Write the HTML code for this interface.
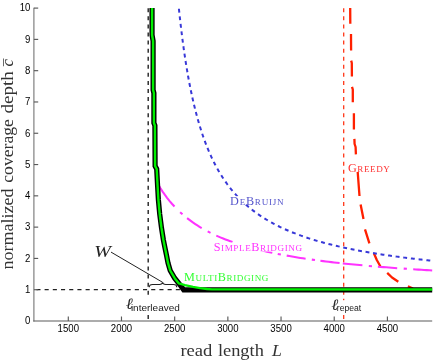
<!DOCTYPE html>
<html><head><meta charset="utf-8"><title>coverage depth vs read length</title>
<style>
html,body{margin:0;padding:0;background:#fff;}
svg{display:block}
.tk text{font-family:"Liberation Sans",sans-serif;font-size:10px;fill:#000}
.ser{font-family:"Liberation Serif",serif;}
.sc{font-family:"Liberation Serif",serif;}
.sc .B{font-size:12.2px}
.sc .S{font-size:9.1px}
.sub{font-family:"Liberation Sans",sans-serif;font-size:9.2px;fill:#1a1a1a}
</style></head><body>
<svg width="438" height="360" viewBox="0 0 438 360">
<rect width="438" height="360" fill="#fff"/>
<!-- reference dashed lines -->
<path d="M33.9,289.6 H184" stroke="#222" stroke-width="1.15" stroke-dasharray="4.1 4.1" stroke-dashoffset="5.7" fill="none"/>
<path d="M148.2,8.3 V320.9" stroke="#222" stroke-width="1.4" stroke-dasharray="4 4.07" fill="none"/>
<path d="M343.7,8.3 V320.9" stroke="#ff3010" stroke-width="1.25" stroke-dasharray="4 4.07" fill="none"/>
<!-- curves -->
<path d="M350.20,8.00 L350.30,23.80 M351.00,33.90 L351.10,50.60 M351.20,60.60 L351.80,63.00 L351.90,76.40 M352.00,86.80 L352.80,89.50 L352.80,102.20 M353.90,113.30 L353.90,129.40 M354.40,138.90 L354.60,144.00 L355.60,147.00 L355.90,154.40 M357.10,164.00 L359.50,196.00 M360.60,204.60 L363.50,219.10 M365.00,229.30 L369.40,243.30 M373.90,253.30 L376.80,260.00 L380.60,266.70 M387.20,272.90 L392.00,277.50 L398.30,281.80 M407.90,286.20 L413.00,288.50" stroke="#ff2000" stroke-width="2.3" fill="none" stroke-linejoin="round"/>
<path d="M158.50,185.09 L160.50,188.36 L162.59,191.57 L164.78,194.71 L167.07,197.79 L169.45,200.79 L171.93,203.71 L174.50,206.55 M187.10,218.12 L189.10,219.66 L191.13,221.16 L193.19,222.63 L195.28,224.04 L197.39,225.42 L199.53,226.76 L201.70,228.06 M216.30,235.57 L218.58,236.59 L220.87,237.57 L223.17,238.51 L225.49,239.43 L227.82,240.33 L230.15,241.19 L232.50,242.03 M253.80,248.49 L256.43,249.17 L259.06,249.83 L261.70,250.46 L264.35,251.08 L266.99,251.68 L269.64,252.27 L272.30,252.83 M286.70,255.63 L289.39,256.11 L292.09,256.57 L294.79,257.02 L297.49,257.46 L300.19,257.89 L302.89,258.31 L305.60,258.71 M320.40,260.77 L323.14,261.12 L325.88,261.46 L328.62,261.79 L331.37,262.12 L334.11,262.44 L336.85,262.75 L339.60,263.06 M342.80,263.40 L345.60,263.70 L348.40,263.99 L351.20,264.27 L354.00,264.55 L356.80,264.82 L359.60,265.09 L362.40,265.35 M377.90,266.69 L380.66,266.92 L383.41,267.14 L386.17,267.35 L388.93,267.56 L391.68,267.77 L394.44,267.97 L397.20,268.17 M413.20,269.26 L415.91,269.44 L418.63,269.61 L421.34,269.78 L424.06,269.94 L426.77,270.11 L429.49,270.27 L432.20,270.42 M180.12,212.14 L182.50,214.28 M207.68,231.37 L210.53,232.83 M238.97,244.20 L242.03,245.15 M277.73,253.94 L280.87,254.55 M311.82,259.61 L314.99,260.05 M368.81,265.92 L371.99,266.20 M403.70,268.63 L406.90,268.85" stroke="#ff33ff" stroke-width="2.05" fill="none"/>
<path d="M178.91,8.73 L179.04,10.03 L179.18,11.32 L179.31,12.61 M179.71,16.33 L179.86,17.62 L180.00,18.91 L180.14,20.20 M180.56,23.87 L180.71,25.16 L180.86,26.46 L181.02,27.75 M181.46,31.37 L181.61,32.66 L181.78,33.95 L181.94,35.24 M182.40,38.83 L182.56,40.12 L182.73,41.41 L182.91,42.70 M183.39,46.26 L183.57,47.55 L183.75,48.83 L183.93,50.12 M184.44,53.65 L184.63,54.94 L184.82,56.22 L185.02,57.51 M185.56,61.02 L185.76,62.30 L185.96,63.59 L186.17,64.87 M186.74,68.36 L186.96,69.64 L187.18,70.92 L187.40,72.21 M188.01,75.68 L188.24,76.96 L188.47,78.24 L188.70,79.52 M189.36,82.99 L189.60,84.27 L189.85,85.54 L190.10,86.82 M190.80,90.28 L191.06,91.56 L191.33,92.83 L191.60,94.10 M192.35,97.56 L192.64,98.83 L192.92,100.10 L193.21,101.37 M194.03,104.83 L194.33,106.10 L194.64,107.36 L194.95,108.62 M195.83,112.09 L196.16,113.35 L196.49,114.60 L196.83,115.86 M197.79,119.33 L198.14,120.58 L198.50,121.83 L198.87,123.08 M199.91,126.56 L200.30,127.80 L200.69,129.04 L201.08,130.28 M202.22,133.75 L202.64,134.98 L203.06,136.21 L203.49,137.43 M204.74,140.89 L205.19,142.11 L205.65,143.32 L206.12,144.54 M207.48,147.97 L207.97,149.17 L208.48,150.37 L208.98,151.57 M210.48,154.97 L211.01,156.15 L211.56,157.33 L212.11,158.51 M213.75,161.86 L214.33,163.02 L214.93,164.18 L215.53,165.33 M217.32,168.62 L217.95,169.76 L218.60,170.88 L219.26,172.01 M221.21,175.22 L221.90,176.32 L222.60,177.42 L223.32,178.50 M225.44,181.63 L226.19,182.69 L226.95,183.74 L227.72,184.79 M230.02,187.80 L230.83,188.82 L231.65,189.83 L232.48,190.83 M234.96,193.71 L235.82,194.67 L236.70,195.63 L237.59,196.58 M240.24,199.32 L241.16,200.23 L242.10,201.14 L243.04,202.03 M245.86,204.61 L246.84,205.46 L247.82,206.31 L248.82,207.15 M251.79,209.55 L252.81,210.35 L253.85,211.14 L254.89,211.92 M257.99,214.15 L259.06,214.89 L260.14,215.62 L261.22,216.34 M264.45,218.40 L265.55,219.09 L266.67,219.76 L267.78,220.42 M271.11,222.32 L272.24,222.95 L273.39,223.56 L274.54,224.17 M277.94,225.91 L279.11,226.49 L280.28,227.05 L281.45,227.61 M284.92,229.21 L286.10,229.73 L287.30,230.25 L288.49,230.77 M292.01,232.22 L293.21,232.71 L294.42,233.18 L295.64,233.65 M299.19,234.99 L300.41,235.43 L301.64,235.87 L302.86,236.30 M306.44,237.52 L307.68,237.93 L308.91,238.33 L310.15,238.73 M313.75,239.85 L314.99,240.22 L316.24,240.59 L317.49,240.96 M321.09,241.98 L322.34,242.33 L323.60,242.67 L324.85,243.01 M328.46,243.95 L329.72,244.27 L330.98,244.59 L332.24,244.90 M335.84,245.77 L337.11,246.06 L338.37,246.36 L339.64,246.65 M343.24,247.45 L344.51,247.72 L345.78,248.00 L347.06,248.27 M350.66,249.01 L351.93,249.26 L353.21,249.52 L354.48,249.77 M358.09,250.46 L359.37,250.70 L360.65,250.94 L361.92,251.17 M365.54,251.82 L366.82,252.04 L368.10,252.26 L369.38,252.48 M373.02,253.08 L374.30,253.29 L375.58,253.50 L376.87,253.71 M380.52,254.28 L381.81,254.47 L383.09,254.67 L384.38,254.86 M388.06,255.40 L389.34,255.58 L390.63,255.76 L391.92,255.94 M395.63,256.45 L396.92,256.63 L398.21,256.80 L399.50,256.97 M403.24,257.45 L404.53,257.62 L405.82,257.78 L407.11,257.94 M410.90,258.40 L412.20,258.55 L413.49,258.70 L414.78,258.86 M418.62,259.30 L419.91,259.44 L421.20,259.59 L422.49,259.73 M426.39,260.15 L427.68,260.29 L428.97,260.42 L430.27,260.56" stroke="#3838d8" stroke-width="2" fill="none"/>
<path d="M152.05,8.00 L152.05,35.00 L153.10,41.00 L153.10,90.00 L153.90,93.00 L153.90,123.00 L154.90,125.50 L155.10,166.00 L156.70,169.00 L157.60,186.00 L158.40,200.00 L159.70,214.00 L161.50,228.00 L163.40,240.00 L164.90,247.60 L166.50,255.30 L168.00,262.90 L170.20,270.50 L174.70,278.20 L179.20,283.80 L183.70,289.90 L432.20,289.90" stroke="#000" stroke-width="5.2" fill="none" stroke-linejoin="miter"/>
<path d="M152.05,8.00 L152.05,35.00 L153.10,41.00 L153.10,90.00 L153.90,93.00 L153.90,123.00 L154.90,125.50 L155.10,166.00 L156.70,169.00 L157.60,186.00 L158.40,200.00 L159.70,214.00 L161.50,228.00 L163.40,240.00 L164.90,247.60 L166.50,255.30 L168.00,262.90 L170.20,270.50 L174.70,278.20 L178.70,283.30 L185.00,285.10 L193.00,286.90 L200.00,288.10 L207.00,289.00 L212.00,289.40 L432.20,289.50" stroke="#00f000" stroke-width="2.4" fill="none" stroke-linejoin="round"/>
<!-- axes -->
<g stroke="#5a5a5a" stroke-width="1.15" fill="none">
<path d="M33.9,7.7 V321.5" stroke="#7a7a7a"/><path d="M33.3,321 H432.2" stroke-width="1.05"/>
<path d="M68.30,321 V316.5"/><path d="M121.48,321 V316.5"/><path d="M174.67,321 V316.5"/><path d="M227.86,321 V316.5"/><path d="M281.04,321 V316.5"/><path d="M334.23,321 V316.5"/><path d="M387.41,321 V316.5"/><path d="M33.9,289.71 H38.2"/><path d="M33.9,258.42 H38.2"/><path d="M33.9,227.13 H38.2"/><path d="M33.9,195.84 H38.2"/><path d="M33.9,164.55 H38.2"/><path d="M33.9,133.26 H38.2"/><path d="M33.9,101.97 H38.2"/><path d="M33.9,70.68 H38.2"/><path d="M33.9,39.39 H38.2"/><path d="M33.9,8.10 H38.2"/>
</g>
<g class="tk"><text x="57.62" y="331.7" textLength="21.36" lengthAdjust="spacingAndGlyphs">1500</text><text x="110.81" y="331.7" textLength="21.36" lengthAdjust="spacingAndGlyphs">2000</text><text x="163.99" y="331.7" textLength="21.36" lengthAdjust="spacingAndGlyphs">2500</text><text x="217.18" y="331.7" textLength="21.36" lengthAdjust="spacingAndGlyphs">3000</text><text x="270.36" y="331.7" textLength="21.36" lengthAdjust="spacingAndGlyphs">3500</text><text x="323.55" y="331.7" textLength="21.36" lengthAdjust="spacingAndGlyphs">4000</text><text x="376.73" y="331.7" textLength="21.36" lengthAdjust="spacingAndGlyphs">4500</text><text x="25.06" y="324.30" textLength="5.34" lengthAdjust="spacingAndGlyphs">0</text><text x="25.06" y="293.01" textLength="5.34" lengthAdjust="spacingAndGlyphs">1</text><text x="25.06" y="261.72" textLength="5.34" lengthAdjust="spacingAndGlyphs">2</text><text x="25.06" y="230.43" textLength="5.34" lengthAdjust="spacingAndGlyphs">3</text><text x="25.06" y="199.14" textLength="5.34" lengthAdjust="spacingAndGlyphs">4</text><text x="25.06" y="167.85" textLength="5.34" lengthAdjust="spacingAndGlyphs">5</text><text x="25.06" y="136.56" textLength="5.34" lengthAdjust="spacingAndGlyphs">6</text><text x="25.06" y="105.27" textLength="5.34" lengthAdjust="spacingAndGlyphs">7</text><text x="25.06" y="73.98" textLength="5.34" lengthAdjust="spacingAndGlyphs">8</text><text x="25.06" y="42.69" textLength="5.34" lengthAdjust="spacingAndGlyphs">9</text><text x="19.72" y="11.40" textLength="10.68" lengthAdjust="spacingAndGlyphs">10</text></g>
<!-- brace and W pointer -->
<path d="M149.3,287.3 C149.3,285 150.2,284.5 152.5,284.5 H159.5 C161.5,284.5 162.4,283.8 162.6,282.3 C162.8,283.8 163.7,284.5 165.7,284.5 H173.6 C175.9,284.5 176.8,285 176.8,287.2" stroke="#222" stroke-width="1.1" fill="none"/>
<path d="M111,252.1 L162.6,282.3" stroke="#222" stroke-width="1" fill="none"/>
<!-- labels -->
<rect x="125" y="296.5" width="56" height="18" fill="#fff"/>
<rect x="331" y="300.2" width="31" height="13.6" fill="#fff"/>
<text class="ser" x="94.2" y="257" font-size="17.6" font-style="italic" fill="#222" textLength="16.6" lengthAdjust="spacingAndGlyphs">W</text>
<text class="ser" x="125.9" y="308.8" font-size="15.5" font-style="italic" fill="#222" stroke="#222" stroke-width="0.1">ℓ</text>
<text class="sub" x="130.9" y="310.6" textLength="49" lengthAdjust="spacingAndGlyphs">interleaved</text>
<text class="ser" x="331.4" y="309.9" font-size="15.5" font-style="italic" fill="#222" stroke="#222" stroke-width="0.1">ℓ</text>
<text class="sub" x="336.8" y="310.8" textLength="24.4" lengthAdjust="spacingAndGlyphs" style="font-size:8.9px">repeat</text>
<rect x="213.2" y="242.6" width="89.6" height="8.9" fill="#fff"/>
<rect x="229.6" y="196.2" width="54.6" height="8.2" fill="#fff"/>
<rect x="347.4" y="163" width="43" height="9" fill="#fff"/>
<text class="sc" x="184.1" y="281" fill="#33ff33" textLength="84.3" lengthAdjust="spacing"><tspan class="B">M</tspan><tspan class="S">ULTI</tspan><tspan class="B">B</tspan><tspan class="S">RIDGING</tspan></text>
<text class="sc" x="213.7" y="251.2" fill="#ff33ff" textLength="88.3" lengthAdjust="spacing"><tspan class="B">S</tspan><tspan class="S">IMPLE</tspan><tspan class="B">B</tspan><tspan class="S">RIDGING</tspan></text>
<text class="sc" x="230.1" y="204.7" fill="#5555cc" textLength="53.5" lengthAdjust="spacing"><tspan class="B">D</tspan><tspan class="S">E</tspan><tspan class="B">B</tspan><tspan class="S">RUIJN</tspan></text>
<text class="sc" x="347.9" y="171.6" fill="#ff3030" textLength="42" lengthAdjust="spacing"><tspan class="B">G</tspan><tspan class="S">REEDY</tspan></text>
<g transform="translate(180.4,355.5)"><text class="ser" x="0.00" y="0" font-size="16.8" fill="#333" textLength="31.95" lengthAdjust="spacingAndGlyphs">read</text><text class="ser" x="37.50" y="0" font-size="16.8" fill="#333" textLength="45.93" lengthAdjust="spacingAndGlyphs">length</text><text class="ser" x="91.57" y="0" font-size="16.8" fill="#333" font-style="italic" textLength="9.92" lengthAdjust="spacingAndGlyphs">L</text></g>
<g transform="translate(13,269.5) rotate(-90)"><text class="ser" x="0.00" y="0" font-size="16.8" fill="#333" textLength="81.11" lengthAdjust="spacingAndGlyphs">normalized</text><text class="ser" x="86.79" y="0" font-size="16.8" fill="#333" textLength="63.65" lengthAdjust="spacingAndGlyphs">coverage</text><text class="ser" x="156.03" y="0" font-size="16.8" fill="#333" textLength="42.40" lengthAdjust="spacingAndGlyphs">depth</text><text class="ser" x="203.12" y="0" font-size="16.8" fill="#333" font-style="italic">c</text><text class="ser" x="203.4" y="0.6" font-size="15" fill="#222">¯</text></g>
</svg>
</body></html>
